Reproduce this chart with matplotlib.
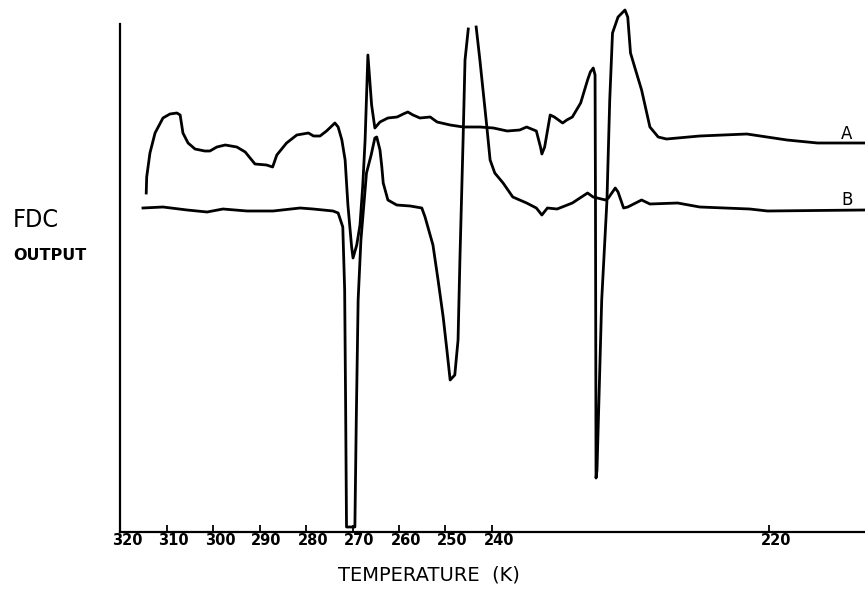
import numpy as np
import matplotlib
matplotlib.use("Agg")
import matplotlib.pyplot as plt
from matplotlib.transforms import ScaledTranslation

# trace A (temperature in K, FDC output in arbitrary units)
temp_a = [314.4, 314.3, 313.6, 312.5, 310.8, 309.3, 307.8, 307.1, 306.5, 305.4,
          303.9, 301.8, 300.7, 299.2, 297.4, 294.9, 293.1, 291.0, 288.5, 287.2,
          286.3, 284.2, 282.0, 279.5, 278.4, 277.0, 275.6, 273.8, 273.1, 272.3,
          271.6, 271.0, 270.2, 269.9, 269.1, 268.4, 267.8, 267.3, 266.7, 265.9,
          265.2, 264.1, 262.4, 260.4, 259.1, 258.1, 257.0, 255.5, 253.3, 251.8,
          249.0, 246.2, 242.6, 239.9, 238.9, 238.0, 237.5, 236.8, 236.5, 236.4,
          236.2, 235.8, 235.5, 234.9, 234.6, 234.2, 233.6, 233.1, 232.9, 232.69,
          232.56, 232.53, 232.49, 232.42, 232.08, 231.7, 231.5, 231.3, 230.9, 230.4,
          230.2, 230.0, 229.7, 229.2, 228.6, 228.0, 227.4, 225.0, 221.6, 218.7,
          216.5, 213.1]
out_a = [339, 355, 379, 399, 414, 418, 419, 417, 399, 389,
         383, 381, 381, 385, 387, 385, 380, 368, 367, 365,
         377, 389, 397, 399, 396, 396, 401, 409, 405, 392,
         372, 327, 285, 274, 287, 307, 347, 392, 477, 427,
         404, 410, 414, 415, 418, 420, 417, 414, 415, 410,
         407, 405, 405, 404, 401, 402, 405, 401, 385, 378,
         385, 417, 415, 409, 412, 415, 429, 452, 460, 464,
         457, 332, 54, 62, 232, 332, 432, 499, 515, 522,
         515, 479, 465, 442, 405, 395, 393, 396, 398, 392,
         389, 389]

# trace B (pen lifted at the top of the 245 K peak)
temp_b = [315.1, 310.8, 305.6, 301.3, 297.9, 292.7, 287.1, 281.3, 278.5, 274.2,
          273.1, 272.1, 271.7, 271.5, 271.3, 269.5, 269.2, 268.8, 268.2, 267.0,
          266.0, 265.2, 264.8, 264.1, 263.7, 263.4, 262.4, 260.5, 257.6, 255.1,
          254.4, 252.7, 251.6, 250.5, 249.7, 249.0, 248.0, 247.3, 246.9, 246.2,
          245.8, 245.1, np.nan, 243.4, 242.6, 241.1, 240.4, 239.8, 239.2, 238.5,
          237.5, 236.8, 236.4, 236.0, 235.3, 234.2, 233.1, 232.7, 231.8, 231.6,
          231.1, 230.9, 230.5, 230.2, 229.2, 228.6, 226.6, 225.0, 221.4, 220.1,
          213.1]
out_b = [324, 325, 322, 320, 323, 321, 321, 324, 323, 321,
         319, 305, 242, 132, 5, 5, 112, 232, 292, 359,
         377, 394, 395, 382, 365, 349, 332, 327, 326, 324,
         315, 287, 252, 215, 182, 152, 157, 192, 272, 395,
         472, 503, np.nan, 505, 472, 405, 372, 359, 349, 335,
         329, 324, 317, 324, 323, 329, 339, 335, 332, 334,
         344, 340, 324, 325, 332, 328, 329, 325, 323, 321,
         322]

tick_temps = [320, 310, 300, 290, 280, 270, 260, 250, 240, 220]


# the recorder's temperature axis is stretched below 240 K
# (increasing function of T; the axis is then reversed by the limits)
def fwd(t):
    t = np.asarray(t, dtype=float)
    return -np.where(t >= 240, 120.2 + (320 - t) * 4.647, 492 + (240 - t) * 13.85)


def inv(p):
    p = -np.asarray(p, dtype=float)
    return np.where(p <= 492, 320 - (p - 120.2) / 4.647, 240 - (p - 492) / 13.85)


fig = plt.figure(figsize=(8.65, 5.89), dpi=100)
ax = fig.add_axes([120.2 / 865, 57 / 589, (865 - 120.2) / 865, 532 / 589])
ax.set_xscale("function", functions=(fwd, inv))
ax.set_xlim(320, 213.07)
ax.set_ylim(0, 532)

ax.plot(temp_a, out_a, color="black", lw=2.0, solid_joinstyle="round")
ax.plot(temp_b, out_b, color="black", lw=2.0, solid_joinstyle="round")

ax.text(214.4, 398, "A", fontsize=12, ha="center", va="center")
ax.text(214.4, 332, "B", fontsize=12, ha="center", va="center")

for s in ["top", "right"]:
    ax.spines[s].set_visible(False)
ax.spines["left"].set_bounds(0, 508)
ax.spines["left"].set_linewidth(1.6)
ax.spines["bottom"].set_linewidth(1.6)

ax.set_yticks([])
ax.set_xticks(tick_temps)
ax.set_xticklabels([str(t) for t in tick_temps], fontsize=10.5, fontweight="bold")
ax.tick_params(axis="x", direction="in", length=5, width=1.3, pad=1)
shift = ScaledTranslation(7 / 100, 0, fig.dpi_scale_trans)
for lab in ax.get_xticklabels():
    lab.set_transform(lab.get_transform() + shift)

fig.text(429 / 865, 1 - 575 / 589, "TEMPERATURE  (K)", fontsize=14,
         ha="center", va="center")
fig.text(13 / 865, 1 - 220 / 589, "FDC", fontsize=18, ha="left", va="center",
         fontstretch="condensed")
fig.text(13 / 865, 1 - 255 / 589, "OUTPUT", fontsize=11.5, fontweight="bold",
         ha="left", va="center")

fig.savefig("out.png", dpi=100)
